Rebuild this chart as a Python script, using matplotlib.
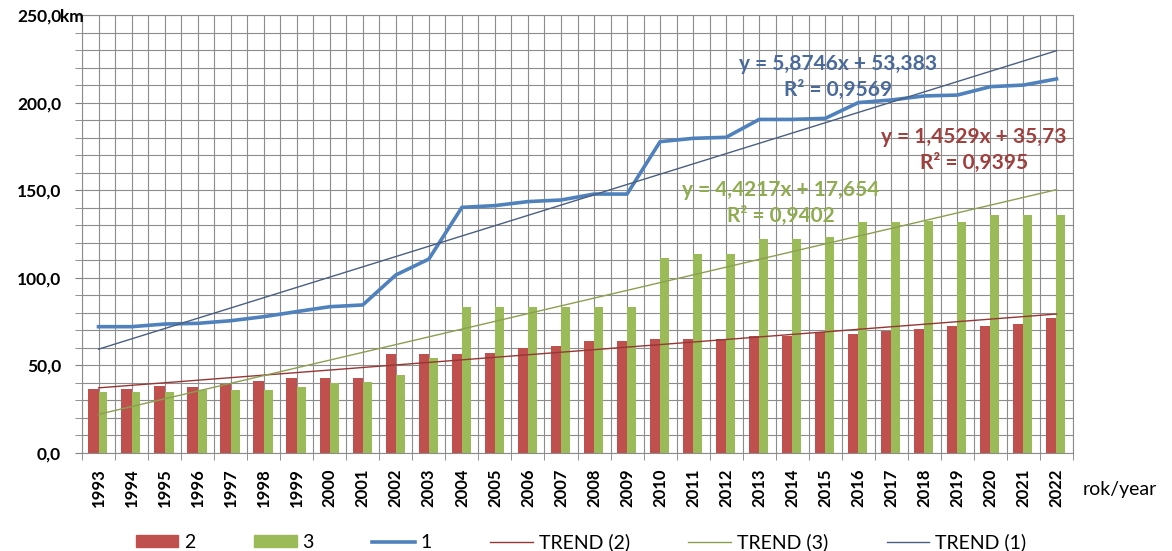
import numpy as np
import matplotlib
matplotlib.use("Agg")
import matplotlib.pyplot as plt
from matplotlib.patches import Patch
from matplotlib.lines import Line2D
from matplotlib.ticker import MultipleLocator, FixedLocator

plt.rcParams['font.family'] = ['Lato', 'DejaVu Sans']
NARROW = ['Liberation Sans Narrow', 'Lato', 'DejaVu Sans']

years = list(range(1993, 2023))

# series "2" (red bars)
s2 = [36.4, 36.4, 38.2, 37.9, 39.4, 40.9, 42.8, 42.6, 42.8, 56.5,
      56.5, 56.5, 57.3, 60.1, 61.3, 64.1, 64.1, 65.1, 65.1, 65.1,
      67.0, 67.0, 68.9, 67.9, 69.8, 70.8, 72.7, 72.7, 73.6, 76.9]
# series "3" (green bars)
s3 = [35.0, 35.0, 35.0, 36.0, 36.0, 36.0, 37.9, 39.8, 40.7, 44.5,
      54.4, 83.5, 83.5, 83.5, 83.5, 83.5, 83.5, 111.5, 113.4, 113.4,
      122.0, 122.0, 123.1, 132.0, 132.0, 132.6, 132.0, 135.8, 135.8, 135.8]
# series "1" (blue line)
s1 = [72.1, 72.1, 73.6, 74.0, 75.5, 77.8, 80.7, 83.5, 84.5, 101.6,
      110.7, 140.2, 141.2, 143.5, 144.4, 147.8, 147.8, 177.7, 179.6, 180.2,
      190.4, 190.4, 191.0, 200.0, 201.5, 203.8, 204.3, 209.1, 210.0, 213.5]

# linear trend coefficients (slope, intercept, R^2), x = 1..30
trend1 = (5.8746, 53.383, 0.9569)
trend2 = (1.4529, 35.73, 0.9395)
trend3 = (4.4217, 17.654, 0.9402)

c_red = '#C0504D'
c_green = '#9BBB59'
c_blue = '#4F81BD'
c_t1 = '#4A5F80'
c_t2 = '#953735'
c_t3 = '#8AA050'

W, H = 1172, 551
fig = plt.figure(figsize=(W / 100, H / 100), dpi=100)
ax = fig.add_axes([82 / W, 1 - 453 / H, (1073 - 82) / W, (453 - 15) / H])

x = np.arange(len(years))
ax.bar(x - 0.31, s2, width=0.31, align='edge', color=c_red, zorder=3)
ax.bar(x, s3, width=0.27, align='edge', color=c_green, zorder=3)
ax.plot(x, s1, color=c_blue, lw=2.6, zorder=4)

xs = np.arange(1, len(years) + 1)
for (a, b, r2), col in ((trend2, c_t2), (trend3, c_t3), (trend1, c_t1)):
    ax.plot(x, a * xs + b, color=col, lw=1.0, zorder=5)


def fmt(v):
    return f"{v}".replace('.', ',')


def eq_text(tr, col, xc, y1):
    a, b, r2 = tr
    kw = dict(transform=fig.transFigure, ha='center', va='center', color=col,
              fontsize=15, fontweight='bold', family=NARROW, zorder=6)
    ax.text(xc, 1 - y1 / H, f"y = {fmt(a)}x + {fmt(b)}", **kw)
    ax.text(xc, 1 - (y1 + 26) / H, f"R² = {fmt(r2)}", **kw)


eq_text(trend1, '#4A6A9C', 838 / W, 64)
eq_text(trend2, '#A0403E', 974 / W, 137)
eq_text(trend3, '#8FAD50', 781 / W, 190)

ax.set_xlim(-0.5, len(years) - 0.5)
ax.set_ylim(0, 250)

ax.yaxis.set_minor_locator(MultipleLocator(10))
ax.set_yticks(range(0, 251, 50))
ax.set_yticklabels([f"{v:.1f}".replace('.', ',') for v in range(0, 251, 50)],
                   fontsize=12.5, fontweight='bold')
ax.tick_params(axis='y', which='both', length=5, color='#808080', pad=10)
fig.text(60 / W, 1 - 17 / H, "km", fontsize=12.5, fontweight='bold',
         va='center', ha='left')

ax.set_xticks(x)
ax.set_xticklabels([str(y) for y in years], rotation=90, fontsize=12,
                   fontweight='bold')
ax.xaxis.set_minor_locator(FixedLocator(np.arange(-0.5, len(years), 1.0)))
ax.tick_params(axis='x', which='major', length=0, pad=11)
ax.tick_params(axis='x', which='minor', length=5, color='#808080')

ax.grid(True, which='both', color='#8c8c8c', lw=0.8, zorder=0)
ax.set_axisbelow(True)
for s in ax.spines.values():
    s.set_color('#8c8c8c')
    s.set_linewidth(0.8)

fig.text(1083 / W, 1 - 490 / H, "rok/year", fontsize=14, va='center',
         ha='left', family=NARROW)

handles = [
    Patch(color=c_red, label='2'),
    Patch(color=c_green, label='3'),
    Line2D([], [], color=c_blue, lw=2.6, label='1'),
    Line2D([], [], color=c_t2, lw=1.0, label='TREND (2)'),
    Line2D([], [], color=c_t3, lw=1.0, label='TREND (3)'),
    Line2D([], [], color=c_t1, lw=1.0, label='TREND (1)'),
]
fig.legend(handles=handles, loc='center', ncol=6, frameon=False,
           bbox_to_anchor=(581 / W, 1 - 542 / H),
           prop={'family': NARROW, 'size': 14},
           handlelength=2.2, handleheight=0.55, columnspacing=3.0,
           handletextpad=0.3)

fig.savefig("out.png", dpi=100)
